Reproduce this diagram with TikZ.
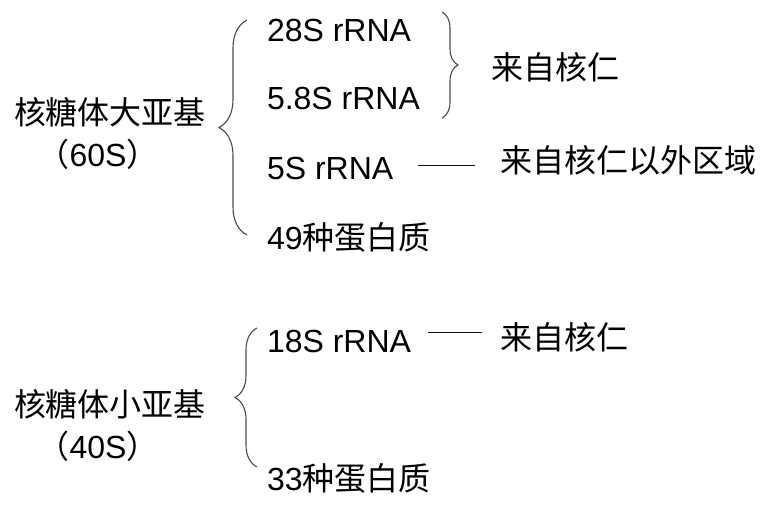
\documentclass[tikz,border=0pt]{standalone}
\usepackage{fontspec}
\setmainfont{Liberation Sans}
\newfontfamily\cjk{Noto Sans CJK SC}
\usepackage{tikz}
\usetikzlibrary{positioning,calc,decorations.pathreplacing}
\definecolor{cBrace}{HTML}{4a4a4a}
\definecolor{cLine} {HTML}{111111}
\tikzset{
  lbl/.style ={inner sep=0pt,outer sep=0pt,font=\fontsize{32}{38}\selectfont},
  item/.style={lbl,anchor=base west},
  head/.style={lbl,anchor=base west},
  brc/.style ={decorate,decoration={brace,amplitude=#1},cBrace,line width=1.1pt},
  lnk/.style ={cLine,line width=1pt},
}

\begin{document}
\begin{tikzpicture}[x=1pt,y=-1pt]
        \useasboundingbox (0,0) rectangle (764,532);
        % large subunit
        \node[head] (big) at (14,125) {\cjk 核糖体大亚基};
        \node[lbl,anchor=base] (bigS) at (98,167) {{\cjk （}60S{\cjk ）}};
        \node[item] (r28) at (267,42) {28S rRNA};
        \node[item] (r58) at (267,110) {5.8S rRNA};
        \node[item] (r5)  at (267,180) {5S rRNA};
        \node[item] (p49) at (267,250) {49{\cjk 种蛋白质}};
        \node[item] (nuc1) at (491,80) {\cjk 来自核仁};
        \node[item] (ext)  at (500,173) {\cjk 来自核仁以外区域};
        \coordinate (bt) at (247,20);
        \coordinate (bb) at (247,235);
        \coordinate (rt) at (442,12);
        \coordinate (rb) at (442,118);
        \draw[brc=28pt] (bb) -- (bt);
        \draw[brc=16pt] (rt) -- (rb);
        \draw[lnk,shorten <=25pt,shorten >=25pt]
          ([yshift=3pt]r5.east) -- ([yshift=3pt]r5.east -| ext.west);
        % small subunit
        \node[head] (small) at (14,416) {\cjk 核糖体小亚基};
        \node[lbl,anchor=base] (smallS) at (98,458) {{\cjk （}40S{\cjk ）}};
        \node[item] (r18) at (267,352) {18S rRNA};
        \node[item] (p33) at (267,490) {33{\cjk 种蛋白质}};
        \node[item] (nuc2) at (500,349) {\cjk 来自核仁};
        \coordinate (st) at (257,328);
        \coordinate (sb) at (257,467);
        \draw[brc=22pt] (sb) -- (st);
        \draw[lnk,shorten <=17pt,shorten >=18pt]
          ([yshift=8pt]r18.east) -- ([yshift=8pt]r18.east -| nuc2.west);
      \end{tikzpicture}
\end{document}
